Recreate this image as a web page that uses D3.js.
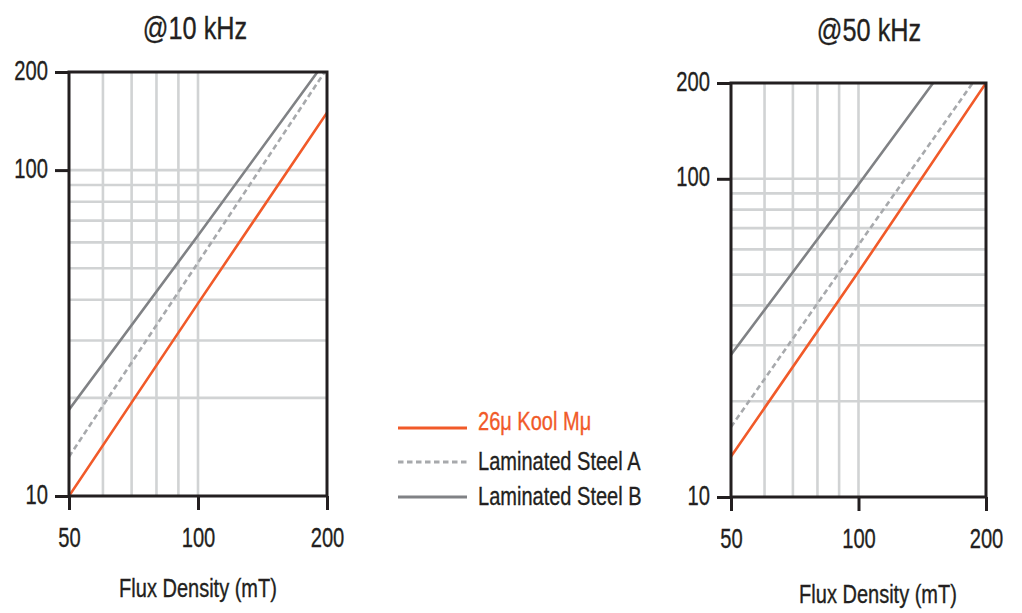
<!DOCTYPE html>
<html>
<head>
<meta charset="utf-8">
<script src="https://cdn.jsdelivr.net/npm/d3@7"></script>
<style>
  html, body { margin: 0; padding: 0; background: #fff; }
  svg { display: block; }
  text { font-family: "Liberation Sans", Arial, sans-serif; }
</style>
</head>
<body>
<svg id="chart" width="1022" height="613"></svg>
<script>
// ---- data ----
const fluxTicks = [50, 100, 200];          // x tick labels (mT)
const lossTicks = [10, 100, 200];          // y tick labels
const gridFlux = [60, 70, 80, 90, 100];    // vertical gridlines
const gridLoss = [20, 30, 40, 50, 60, 70, 80, 90, 100]; // horizontal gridlines
const seriesNames = ["26μ Kool Mμ", "Laminated Steel A", "Laminated Steel B"];
const panelTitles = ["@10 kHz", "@50 kHz"];
const axisTitle = "Flux Density (mT)";

// 10 kHz panel: [flux density mT, loss]
const koolMu10k = [[50, 10], [100, 39], [200, 150]];
const steelA10k = [[50, 13.2], [100, 52], [200, 205]];
const steelB10k = [[50, 18.4], [100, 63], [190, 200]];
// 50 kHz panel
const koolMu50k = [[50, 13.4], [100, 51], [200, 200]];
const steelA50k = [[50, 16.6], [100, 62], [186, 200]];
const steelB50k = [[50, 28], [100, 96], [150, 200]];

// ---- styles ----
const colors = ["#f15a29", "#a7a9ac", "#808285"];
const dashes = [null, "5.5,3.5", null];
const ink = "#231f20";
const gridColor = "#d1d3d4";

// condensed lettering: squeeze glyphs horizontally, thicken slightly
function narrow(sel, squeeze, color) {
  sel.each(function (d, i) {
    const c = typeof color === "function" ? color(d, i) : (color || ink);
    const w = this.getComputedTextLength();
    d3.select(this).attr("textLength", w * squeeze).attr("lengthAdjust", "spacingAndGlyphs")
      .style("fill", c).style("stroke", c).style("stroke-width", 0.35);
  });
}

const svg = d3.select("#chart");

const panels = [
  { title: panelTitles[0], series: [koolMu10k, steelA10k, steelB10k],
    x0: 69, x1: 327, y0: 496, y1: 72, titleX: 195, titleY: 39, axisTitleX: 198, axisTitleY: 597 },
  { title: panelTitles[1], series: [koolMu50k, steelA50k, steelB50k],
    x0: 731, x1: 986, y0: 497, y1: 83, titleX: 869, titleY: 41, axisTitleX: 878, axisTitleY: 603 }
];

panels.forEach((p, pi) => {
  const x = d3.scaleLog().domain([50, 200]).range([p.x0, p.x1]);
  const y = d3.scaleLog().domain([10, 200]).range([p.y0, p.y1]);
  const g = svg.append("g");

  const clipId = "clip" + pi;
  g.append("clipPath").attr("id", clipId).append("rect")
    .attr("x", p.x0).attr("y", p.y1)
    .attr("width", p.x1 - p.x0).attr("height", p.y0 - p.y1);

  // gridlines
  g.append("g").selectAll("line").data(gridLoss).join("line")
    .attr("x1", p.x0).attr("x2", p.x1)
    .attr("y1", d => y(d)).attr("y2", d => y(d))
    .attr("stroke", gridColor).attr("stroke-width", 2.6);
  g.append("g").selectAll("line").data(gridFlux).join("line")
    .attr("x1", d => x(d)).attr("x2", d => x(d))
    .attr("y1", p.y0).attr("y2", p.y1)
    .attr("stroke", gridColor).attr("stroke-width", 2.6);

  // series
  const line = d3.line().x(d => x(d[0])).y(d => y(d[1]));
  g.append("g").attr("clip-path", `url(#${clipId})`)
    .selectAll("path").data(p.series).join("path")
    .attr("d", line)
    .attr("fill", "none")
    .attr("stroke", (d, i) => colors[i])
    .attr("stroke-width", 2.6)
    .attr("stroke-dasharray", (d, i) => dashes[i]);

  // frame
  g.append("rect")
    .attr("x", p.x0).attr("y", p.y1)
    .attr("width", p.x1 - p.x0).attr("height", p.y0 - p.y1)
    .attr("fill", "none").attr("stroke", ink).attr("stroke-width", 3);

  // axes
  const xAxis = d3.axisBottom(x).tickValues(fluxTicks).tickFormat(d3.format("d"))
    .tickSize(14).tickPadding(17);
  const gx = g.append("g").attr("transform", `translate(0,${p.y0})`).call(xAxis);
  const yAxis = d3.axisLeft(y).tickValues(lossTicks).tickFormat(d3.format("d"))
    .tickSize(14).tickPadding(7);
  const gy = g.append("g").attr("transform", `translate(${p.x0},0)`).call(yAxis);
  [gx, gy].forEach(a => {
    a.select(".domain").remove();
    a.selectAll(".tick line").attr("stroke", ink).attr("stroke-width", 3);
    a.selectAll(".tick text")
      .style("font-family", "'Liberation Sans', Arial, sans-serif")
      .style("font-size", "28px");
  });
  gy.selectAll(".tick text").attr("dy", "0.25em");
  narrow(gx.selectAll(".tick text"), 0.72);
  narrow(gy.selectAll(".tick text"), 0.72);

  // titles
  narrow(g.append("text").attr("x", p.titleX).attr("y", p.titleY)
    .attr("text-anchor", "middle").style("font-size", "32px").text(p.title), 0.79);
  narrow(g.append("text").attr("x", p.axisTitleX).attr("y", p.axisTitleY)
    .attr("text-anchor", "middle").style("font-size", "25px").text(axisTitle), 0.8);
});

// legend
const legendRows = [
  { lineY: 428, textY: 430 },
  { lineY: 462, textY: 470 },
  { lineY: 497, textY: 505 }
];
const lg = svg.append("g");
const rows = lg.selectAll("g").data(seriesNames).join("g");
rows.append("line")
  .attr("x1", 398).attr("x2", 467)
  .attr("y1", (d, i) => legendRows[i].lineY).attr("y2", (d, i) => legendRows[i].lineY)
  .attr("stroke", (d, i) => colors[i]).attr("stroke-width", 3)
  .attr("stroke-dasharray", (d, i) => dashes[i]);
narrow(rows.append("text")
  .attr("x", 478).attr("y", (d, i) => legendRows[i].textY)
  .style("font-size", "26px")
  .text(d => d), 0.77, (d, i) => i === 0 ? colors[0] : ink);
</script>
</body>
</html>
